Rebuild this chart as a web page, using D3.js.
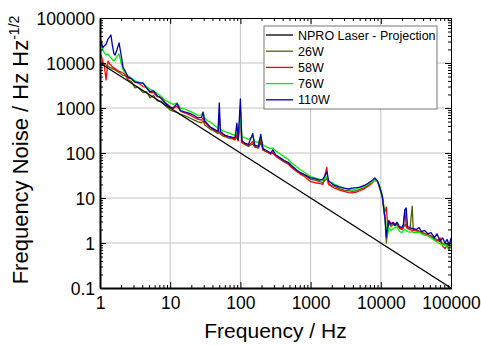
<!DOCTYPE html>
<html>
<head>
<meta charset="utf-8">
<script src="https://cdn.jsdelivr.net/npm/d3@7"></script>
<style>
  html, body { margin: 0; padding: 0; background: #fff; }
  svg { display: block; font-family: "Liberation Sans", Arial, sans-serif; }
</style>
</head>
<body>
<svg id="chart" width="481" height="345"></svg>
<script>
// frequency grid (Hz) shared by the measured series
const freqs = [
  1, 1.05, 1.1, 1.15, 1.22, 1.3, 1.37, 1.43, 1.5, 1.58, 1.64, 1.75, 1.87, 2, 2.13, 2.3, 2.5, 2.8, 3.15, 3.5,
  4.1, 4.6, 5.15, 5.8, 6.5, 7.5, 8.4, 10, 11, 12.5, 14, 16, 19, 22, 25, 28, 29.4, 31, 34, 37,
  42, 48, 50, 52, 56, 60, 68, 76, 84, 89, 93, 100, 105, 115, 130, 150, 160, 180, 195, 210,
  240, 270, 290, 320, 370, 420, 480, 540, 620, 710, 820, 1000, 1150, 1350, 1500, 1700, 1800, 2000, 2200, 2600,
  3000, 3500, 3900, 4500, 5000, 5800, 6500, 7400, 8200, 9000, 9700, 10500, 11000, 11500, 12000, 12500, 13000, 14000, 15000, 16000,
  17000, 18500, 20000, 21000, 22000, 23000, 24000, 26000, 28000, 29000, 32000, 35000, 38000, 42000, 47000, 52000, 58000, 63000, 70000, 76000,
  82000, 88000, 94000, 100000
];

const w26 = [
  11000, 10500, 10000, 9500, 9000, 8500, 8000, 7800, 7500, 7200, 7000, 6600, 6200, 5700, 5300, 5200, 4200, 3900, 2800, 2900,
  2200, 2300, 1700, 1900, 1450, 1400, 1150, 900, 850, 800, 720, 680, 600, 540, 490, 470, 520, 420, 380, 340,
  310, 270, 290, 260, 240, 230, 215, 205, 195, 230, 185, 700, 170, 155, 140, 160, 135, 128, 170, 115,
  105, 95, 100, 86, 75, 66, 58, 50, 42, 36, 32, 26, 25, 23, 22, 27, 21, 19, 18, 16,
  15, 14.5, 14, 14.5, 15.5, 17, 19, 22, 26, 23, 16, 10.5, 5.5, 3.2, 1.0, 1.8, 2.8, 2.3, 2.6, 2.4,
  2.6, 2.1, 2.0, 2.2, 2.6, 2.3, 2.1, 2.0, 6.6, 2.0, 1.9, 1.85, 1.7, 1.65, 1.5, 1.45, 1.25, 1.2, 1.05, 1.0,
  0.9, 0.95, 0.85, 1.1
];

const w58 = [
  16500, 14000, 10500, 9000, 4200, 11000, 9500, 9000, 8200, 7800, 7500, 7000, 6500, 6300, 6000, 5500, 4600, 4500, 3700, 3600,
  3000, 2900, 2200, 2200, 1800, 1750, 1350, 1050, 980, 1100, 850, 780, 700, 620, 560, 540, 600, 480, 420, 370,
  330, 290, 700, 280, 260, 240, 225, 215, 205, 260, 190, 900, 175, 160, 145, 180, 140, 130, 200, 118,
  105, 95, 105, 85, 72, 63, 57, 47, 40, 34, 30, 23, 22, 21, 20, 48, 20, 18, 16.5, 15,
  14, 13.2, 13, 13.5, 14.5, 16, 18, 21, 25, 23, 17, 11, 6.5, 5, 6.3, 2.5, 3.2, 2.7, 2.9, 2.6,
  2.7, 2.2, 2.0, 2.3, 5.4, 2.5, 2.1, 2.0, 1.9, 1.9, 1.85, 1.8, 1.7, 1.6, 1.55, 1.4, 1.2, 1.1, 1.3, 0.85,
  0.75, 0.9, 0.7, 1.05
];

const w76 = [
  28000, 26000, 20000, 17000, 15000, 16000, 14000, 13000, 12000, 11000, 12000, 14000, 16000, 10000, 7000, 6000, 5200, 4600, 4000, 3800,
  3500, 3000, 2600, 2400, 2100, 1800, 1500, 1300, 1200, 1300, 1000, 950, 850, 760, 680, 700, 820, 600, 520, 490,
  420, 360, 400, 340, 310, 300, 280, 260, 250, 290, 240, 600, 230, 220, 200, 230, 180, 170, 220, 150,
  135, 125, 130, 110, 95, 82, 72, 60, 50, 43, 37, 30, 28, 26, 25, 30, 24, 22, 20, 18,
  16.5, 15.5, 15, 16, 17, 18, 20, 22, 25, 23, 18, 11.5, 7, 4.2, 2, 1.5, 2.2, 1.9, 2.1, 2.2,
  2.3, 1.8, 1.7, 1.9, 2.0, 1.9, 1.8, 1.75, 1.8, 1.7, 1.7, 1.75, 1.6, 1.5, 1.45, 1.3, 1.15, 1.05, 0.95, 0.9,
  1.0, 0.8, 0.75, 1.0
];

const w110 = [
  36000, 28000, 22000, 24000, 26000, 34000, 38000, 42000, 25000, 16000, 15000, 20000, 28000, 15000, 8000, 6500, 4900, 4500, 3800, 3600,
  3600, 2800, 2300, 2400, 1900, 1600, 1300, 1050, 1000, 1250, 880, 820, 760, 680, 600, 620, 800, 520, 440, 380,
  340, 300, 1300, 300, 270, 250, 235, 225, 220, 460, 200, 1600, 185, 166, 155, 270, 150, 140, 260, 125,
  112, 100, 118, 90, 78, 68, 62, 52, 43, 37, 33, 28, 27, 25, 26, 38, 24, 21, 19, 17.5,
  16.5, 16, 16.5, 17, 17.5, 19, 21, 24, 28, 24, 17, 11, 6, 3.5, 1.35, 2.2, 3, 2.6, 2.8, 2.5,
  2.9, 2.3, 2.2, 2.6, 5.5, 6, 2.3, 2.2, 2.1, 2.1, 2.0, 2.2, 1.8, 1.9, 1.6, 1.7, 1.3, 1.6, 1.1, 1.3,
  1.0, 1.2, 0.9, 1.3
];

// NPRO projection: straight line end points
const nproFreqs = [1, 100000];
const nproValues = [10000, 0.1];

const seriesNames = ['NPRO Laser - Projection', '26W', '58W', '76W', '110W'];
const seriesColors = ['#000000', '#4f6500', '#ff0000', '#00f000', '#0000b0'];

const xTicks = [1, 10, 100, 1000, 10000, 100000];
const yTicks = [0.1, 1, 10, 100, 1000, 10000, 100000];

const svg = d3.select('#chart');
const margin = { top: 18, right: 30, bottom: 57, left: 100 };
const width = 481 - margin.left - margin.right;
const height = 345 - margin.top - margin.bottom;

const g = svg.append('g').attr('transform', `translate(${margin.left},${margin.top})`);

const x = d3.scaleLog().domain([1, 100000]).range([0, width]);
const y = d3.scaleLog().domain([0.1, 100000]).range([height, 0]);

// minor tick values for each decade
const minorOf = (dom) => {
  const out = [];
  for (let e = Math.log10(dom[0]); e < Math.log10(dom[1]); e++) {
    for (let k = 2; k <= 9; k++) out.push(k * Math.pow(10, e));
  }
  return out;
};
const xMinor = minorOf(x.domain());
const yMinor = minorOf(y.domain());

// grid
g.append('g').selectAll('line').data(xTicks.slice(1, -1)).join('line')
  .attr('x1', d => x(d)).attr('x2', d => x(d))
  .attr('y1', 0).attr('y2', height)
  .attr('stroke', '#c4c4c4').attr('stroke-width', 1);
g.append('g').selectAll('line').data(yTicks.slice(1, -1)).join('line')
  .attr('y1', d => y(d)).attr('y2', d => y(d))
  .attr('x1', 0).attr('x2', width)
  .attr('stroke', '#c4c4c4').attr('stroke-width', 1);

// data lines
const line = d3.line().x(d => x(d[0])).y(d => y(d[1]));
svg.append('defs').append('clipPath').attr('id', 'plot-clip')
  .append('rect').attr('width', width).attr('height', height);
const plot = g.append('g').attr('clip-path', 'url(#plot-clip)');

const measured = [w26, w58, w76, w110];
measured.forEach((vals, i) => {
  plot.append('path')
    .datum(freqs.map((f, j) => [f, vals[j]]))
    .attr('fill', 'none')
    .attr('stroke', seriesColors[i + 1])
    .attr('stroke-width', 1.3)
    .attr('stroke-linejoin', 'round')
    .attr('d', line);
});
plot.append('path')
  .datum(nproFreqs.map((f, j) => [f, nproValues[j]]))
  .attr('fill', 'none')
  .attr('stroke', seriesColors[0])
  .attr('stroke-width', 1.2)
  .attr('d', line);

// axes with inward ticks
const tickFmt = d => String(d);
const axisB = g.append('g').attr('transform', `translate(0,${height})`)
  .call(d3.axisBottom(x).tickValues(xTicks).tickFormat(tickFmt).tickSizeInner(-6).tickSizeOuter(0).tickPadding(9));
const axisL = g.append('g')
  .call(d3.axisLeft(y).tickValues(yTicks).tickFormat(tickFmt).tickSizeInner(-6).tickSizeOuter(0).tickPadding(5));
g.append('g')
  .call(d3.axisTop(x).tickValues(xTicks).tickFormat('').tickSizeInner(-6).tickSizeOuter(0));
g.append('g').attr('transform', `translate(${width},0)`)
  .call(d3.axisRight(y).tickValues(yTicks).tickFormat('').tickSizeInner(-6).tickSizeOuter(0));

g.append('g').attr('transform', `translate(0,${height})`)
  .call(d3.axisBottom(x).tickValues(xMinor).tickFormat('').tickSizeInner(-3).tickSizeOuter(0));
g.append('g')
  .call(d3.axisTop(x).tickValues(xMinor).tickFormat('').tickSizeInner(-3).tickSizeOuter(0));
g.append('g')
  .call(d3.axisLeft(y).tickValues(yMinor).tickFormat('').tickSizeInner(-3).tickSizeOuter(0));
g.append('g').attr('transform', `translate(${width},0)`)
  .call(d3.axisRight(y).tickValues(yMinor).tickFormat('').tickSizeInner(-3).tickSizeOuter(0));

g.selectAll('.domain').attr('stroke', '#000');
g.selectAll('.tick line').attr('stroke', '#000');
axisB.select('.domain').attr('stroke-width', 2);
axisL.select('.domain').attr('stroke-width', 2);
[axisB, axisL].forEach(a => a.selectAll('text')
  .attr('font-size', '17.5px').attr('fill', '#000')
  .attr('font-family', '"Liberation Sans", Arial, sans-serif'));
axisL.selectAll('text').attr('dy', '0.36em');

// axis titles
svg.append('text')
  .attr('x', margin.left + width / 2).attr('y', 338)
  .attr('text-anchor', 'middle').attr('font-size', '21px').attr('fill', '#000')
  .text('Frequency / Hz');

const yTitle = svg.append('text')
  .attr('transform', `translate(28,${margin.top + height / 2 - 3}) rotate(-90)`)
  .attr('text-anchor', 'middle').attr('font-size', '22px').attr('fill', '#000');
yTitle.append('tspan').text('Frequency Noise / Hz Hz');
yTitle.append('tspan').attr('font-size', '14px').attr('dy', '-9').text('-1/2');

// legend
const legend = g.append('g').attr('transform', `translate(${264 - margin.left},${26 - margin.top})`);
legend.append('rect')
  .attr('width', 173).attr('height', 83)
  .attr('fill', '#fff').attr('stroke', '#777').attr('stroke-width', 1);
seriesNames.forEach((name, i) => {
  const ly = 9 + i * 16.2;
  legend.append('line')
    .attr('x1', 2).attr('x2', 29).attr('y1', ly).attr('y2', ly)
    .attr('stroke', seriesColors[i]).attr('stroke-width', 1.3);
  legend.append('text')
    .attr('x', 34).attr('y', ly).attr('dy', '0.36em')
    .attr('font-size', '12.5px').attr('fill', '#000')
    .text(name);
});
</script>
</body>
</html>
